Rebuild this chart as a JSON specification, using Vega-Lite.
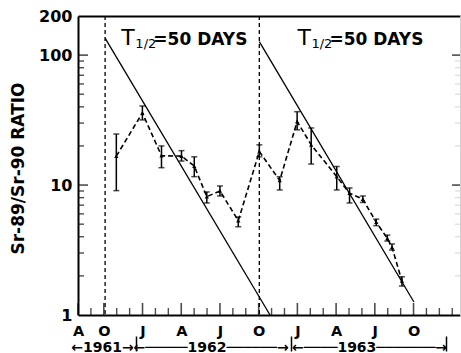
{
  "$schema": "https://vega.github.io/schema/vega-lite/v6.json",
  "width": 382,
  "height": 299,
  "autosize": "none",
  "padding": {"left": 78, "top": 16, "right": 1, "bottom": 38},
  "background": "white",
  "config": {
    "view": {"stroke": null},
    "font": "DejaVu Sans",
    "axis": {
      "grid": false,
      "labelFont": "DejaVu Sans",
      "labelFontWeight": "bold",
      "labelColor": "black",
      "tickColor": "black",
      "domainColor": "black",
      "titleFont": "DejaVu Sans",
      "titleFontWeight": "bold",
      "titleColor": "black",
      "labelFlush": false,
      "labelOverlap": false
    }
  },
  "datasets": {
    "series": [
      {"m": 2.97, "v": 16.7, "lo": 9.06, "hi": 24.7},
      {"m": 4.99, "v": 35.9, "lo": 31.7, "hi": 40.6},
      {"m": 6.47, "v": 16.8, "lo": 13.6, "hi": 20.0},
      {"m": 8.02, "v": 16.7, "lo": 15.3, "hi": 18.4},
      {"m": 9.01, "v": 14.0, "lo": 11.6, "hi": 16.5},
      {"m": 9.98, "v": 8.14, "lo": 7.28, "hi": 8.85},
      {"m": 11.0, "v": 9.01, "lo": 8.24, "hi": 9.84},
      {"m": 12.42, "v": 5.32, "lo": 4.78, "hi": 5.68},
      {"m": 14.05, "v": 18.1, "lo": 16.5, "hi": 20.4},
      {"m": 15.63, "v": 10.85, "lo": 9.17, "hi": 11.6},
      {"m": 16.98, "v": 30.8, "lo": 26.6, "hi": 36.7},
      {"m": 18.07, "v": 20.4, "lo": 14.5, "hi": 27.5},
      {"m": 20.05, "v": 11.6, "lo": 9.17, "hi": 13.9},
      {"m": 21.04, "v": 8.65, "lo": 7.28, "hi": 9.5},
      {"m": 22.07, "v": 7.78, "lo": 7.35, "hi": 8.24},
      {"m": 23.11, "v": 5.17, "lo": 4.87, "hi": 5.47},
      {"m": 23.97, "v": 3.89, "lo": 3.71, "hi": 4.12},
      {"m": 24.33, "v": 3.32, "lo": 3.16, "hi": 3.52},
      {"m": 25.1, "v": 1.83, "lo": 1.67, "hi": 1.97}
    ],
    "decay": [
      {"g": 1, "m": 2.1, "v": 135},
      {"g": 1, "m": 14.88, "v": 1},
      {"g": 2, "m": 14.05, "v": 127},
      {"g": 2, "m": 26.03, "v": 1.26}
    ],
    "oct": [{"m": 2.1}, {"m": 14.05}],
    "ann": [{"m": 3.36, "v": 119.8}, {"m": 17.0, "v": 119.8}],
    "xmajor": [{"m": 0, "v": 1}, {"m": 2, "v": 1}, {"m": 5, "v": 1}, {"m": 8, "v": 1}, {"m": 11, "v": 1}, {"m": 14, "v": 1}, {"m": 17, "v": 1}, {"m": 20, "v": 1}, {"m": 23, "v": 1}, {"m": 26, "v": 1}],
    "xminor": [{"m": 1, "v": 1}, {"m": 3, "v": 1}, {"m": 4, "v": 1}, {"m": 6, "v": 1}, {"m": 7, "v": 1}, {"m": 9, "v": 1}, {"m": 10, "v": 1}, {"m": 12, "v": 1}, {"m": 13, "v": 1}, {"m": 15, "v": 1}, {"m": 16, "v": 1}, {"m": 18, "v": 1}, {"m": 19, "v": 1}, {"m": 21, "v": 1}, {"m": 22, "v": 1}, {"m": 24, "v": 1}, {"m": 25, "v": 1}, {"m": 27, "v": 1}, {"m": 28, "v": 1}, {"m": 29, "v": 1}],
    "ymajorL": [{"m": 0, "v": 10}, {"m": 0, "v": 100}],
    "yminorL": [{"m": 0, "v": 2}, {"m": 0, "v": 3}, {"m": 0, "v": 4}, {"m": 0, "v": 5}, {"m": 0, "v": 6}, {"m": 0, "v": 7}, {"m": 0, "v": 8}, {"m": 0, "v": 9}, {"m": 0, "v": 20}, {"m": 0, "v": 30}, {"m": 0, "v": 40}, {"m": 0, "v": 50}, {"m": 0, "v": 60}, {"m": 0, "v": 70}, {"m": 0, "v": 80}, {"m": 0, "v": 90}],
    "ymajorR": [{"m": 29.6, "v": 10}, {"m": 29.6, "v": 100}],
    "yminorR": [{"m": 29.6, "v": 2}, {"m": 29.6, "v": 3}, {"m": 29.6, "v": 4}, {"m": 29.6, "v": 5}, {"m": 29.6, "v": 6}, {"m": 29.6, "v": 7}, {"m": 29.6, "v": 8}, {"m": 29.6, "v": 9}, {"m": 29.6, "v": 20}, {"m": 29.6, "v": 30}, {"m": 29.6, "v": 40}, {"m": 29.6, "v": 50}, {"m": 29.6, "v": 60}, {"m": 29.6, "v": 70}, {"m": 29.6, "v": 80}, {"m": 29.6, "v": 90}]
  },
  "resolve": {"axis": {"x": "independent", "y": "independent"}},
  "layer": [
    {
      "data": {"name": "oct"},
      "mark": {"type": "rule", "color": "black", "strokeWidth": 1.3, "strokeDash": [4, 3]},
      "encoding": {
        "x": {
          "field": "m", "type": "quantitative",
          "scale": {"domain": [0, 29.6], "nice": false, "zero": false},
          "axis": {
            "orient": "bottom", "title": null,
            "values": [0, 2, 5, 8, 11, 14, 17, 20, 23, 26],
            "labelExpr": "['A','','O','','','J','','','A','','','J'][datum.value % 12]",
            "ticks": false, "domain": true, "domainWidth": 2,
            "labelFontSize": 14.5, "labelPadding": 9, "zindex": 1
          }
        }
      }
    },
    {
      "data": {"name": "decay"},
      "mark": {"type": "line", "color": "black", "strokeWidth": 1.3},
      "encoding": {
        "x": {"field": "m", "type": "quantitative", "scale": {"domain": [0, 29.6], "nice": false, "zero": false}, "axis": null},
        "y": {
          "field": "v", "type": "quantitative",
          "scale": {"type": "log", "domain": [1, 200], "nice": false},
          "axis": {
            "orient": "left", "values": [1, 10, 100, 200],
            "ticks": false, "domain": true, "domainWidth": 2,
            "labelFontSize": 16, "labelPadding": 6,
            "title": "Sr-89/Sr-90 RATIO", "titleFontSize": 17,
            "titleX": -60, "titleY": 152, "titleAngle": -90,
            "titleAlign": "center", "titleBaseline": "middle", "zindex": 1
          }
        },
        "detail": {"field": "g", "type": "nominal"}
      }
    },
    {
      "data": {"name": "series"},
      "mark": {"type": "line", "color": "black", "strokeWidth": 1.6, "strokeDash": [5, 3]},
      "encoding": {
        "x": {"field": "m", "type": "quantitative", "scale": {"domain": [0, 29.6], "nice": false, "zero": false}, "axis": null},
        "y": {"field": "v", "type": "quantitative", "scale": {"type": "log", "domain": [1, 200], "nice": false}, "axis": null}
      }
    },
    {
      "data": {"name": "series"},
      "mark": {"type": "rule", "color": "black", "strokeWidth": 1.5},
      "encoding": {
        "x": {
          "field": "m", "type": "quantitative",
          "scale": {"domain": [0, 29.6], "nice": false, "zero": false},
          "axis": {
            "orient": "bottom", "title": null,
            "values": [1.86, 10.28, 22.55],
            "labelExpr": "datum.value < 5 ? '←1961→' : (datum.value < 15 ? '←─────1962──────→' : '←────1963───────→')",
            "ticks": false, "domain": false,
            "labelFontSize": 14, "labelPadding": 25, "zindex": 1
          }
        },
        "y": {"field": "lo", "type": "quantitative", "scale": {"type": "log", "domain": [1, 200], "nice": false}, "axis": null},
        "y2": {"field": "hi"}
      }
    },
    {
      "data": {"name": "series"},
      "mark": {"type": "tick", "color": "black", "orient": "horizontal", "size": 6, "thickness": 1.5},
      "encoding": {
        "x": {
          "field": "m", "type": "quantitative",
          "scale": {"domain": [0, 29.6], "nice": false, "zero": false},
          "axis": {
            "orient": "bottom", "title": null, "offset": 21,
            "values": [4.5, 16.5, 28.5],
            "labels": false, "domain": false,
            "tickSize": 15, "tickWidth": 1.5, "zindex": 1
          }
        },
        "y": {"field": "hi", "type": "quantitative", "scale": {"type": "log", "domain": [1, 200], "nice": false}, "axis": null}
      }
    },
    {
      "data": {"name": "series"},
      "mark": {"type": "tick", "color": "black", "orient": "horizontal", "size": 6, "thickness": 1.5},
      "encoding": {
        "x": {
          "field": "m", "type": "quantitative",
          "scale": {"domain": [0, 29.6], "nice": false, "zero": false},
          "axis": {
            "orient": "top", "title": null,
            "labels": false, "ticks": false, "domain": true, "domainWidth": 2, "zindex": 1
          }
        },
        "y": {"field": "lo", "type": "quantitative", "scale": {"type": "log", "domain": [1, 200], "nice": false}, "axis": null}
      }
    },
    {
      "data": {"name": "series"},
      "mark": {"type": "point", "shape": "triangle-up", "filled": true, "color": "black", "size": 18, "opacity": 1},
      "encoding": {
        "x": {"field": "m", "type": "quantitative", "scale": {"domain": [0, 29.6], "nice": false, "zero": false}, "axis": null},
        "y": {
          "field": "v", "type": "quantitative",
          "scale": {"type": "log", "domain": [1, 200], "nice": false},
          "axis": {
            "orient": "right", "title": null, "labels": false, "ticks": false,
            "domain": true, "domainColor": "#d0d0d0", "domainWidth": 1, "zindex": 1
          }
        }
      }
    },
    {
      "data": {"name": "xmajor"},
      "mark": {"type": "tick", "color": "black", "orient": "vertical", "size": 12, "thickness": 1.6, "yOffset": -6},
      "encoding": {
        "x": {"field": "m", "type": "quantitative", "scale": {"domain": [0, 29.6], "nice": false, "zero": false}, "axis": null},
        "y": {"field": "v", "type": "quantitative", "scale": {"type": "log", "domain": [1, 200], "nice": false}, "axis": null}
      }
    },
    {
      "data": {"name": "xminor"},
      "mark": {"type": "tick", "color": "black", "orient": "vertical", "size": 7, "thickness": 1.4, "yOffset": -3.5},
      "encoding": {
        "x": {"field": "m", "type": "quantitative", "scale": {"domain": [0, 29.6], "nice": false, "zero": false}, "axis": null},
        "y": {"field": "v", "type": "quantitative", "scale": {"type": "log", "domain": [1, 200], "nice": false}, "axis": null}
      }
    },
    {
      "data": {"name": "ymajorL"},
      "mark": {"type": "tick", "color": "black", "orient": "horizontal", "size": 10, "thickness": 1.6, "xOffset": 5},
      "encoding": {
        "x": {"field": "m", "type": "quantitative", "scale": {"domain": [0, 29.6], "nice": false, "zero": false}, "axis": null},
        "y": {"field": "v", "type": "quantitative", "scale": {"type": "log", "domain": [1, 200], "nice": false}, "axis": null}
      }
    },
    {
      "data": {"name": "yminorL"},
      "mark": {"type": "tick", "color": "black", "orient": "horizontal", "size": 6, "thickness": 1.4, "xOffset": 3},
      "encoding": {
        "x": {"field": "m", "type": "quantitative", "scale": {"domain": [0, 29.6], "nice": false, "zero": false}, "axis": null},
        "y": {"field": "v", "type": "quantitative", "scale": {"type": "log", "domain": [1, 200], "nice": false}, "axis": null}
      }
    },
    {
      "data": {"name": "ymajorR"},
      "mark": {"type": "tick", "color": "black", "orient": "horizontal", "size": 8, "thickness": 1.6, "xOffset": -4},
      "encoding": {
        "x": {"field": "m", "type": "quantitative", "scale": {"domain": [0, 29.6], "nice": false, "zero": false}, "axis": null},
        "y": {"field": "v", "type": "quantitative", "scale": {"type": "log", "domain": [1, 200], "nice": false}, "axis": null}
      }
    },
    {
      "data": {"name": "yminorR"},
      "mark": {"type": "tick", "color": "#c0c0c0", "orient": "horizontal", "size": 5, "thickness": 1, "xOffset": -2.5},
      "encoding": {
        "x": {"field": "m", "type": "quantitative", "scale": {"domain": [0, 29.6], "nice": false, "zero": false}, "axis": null},
        "y": {"field": "v", "type": "quantitative", "scale": {"type": "log", "domain": [1, 200], "nice": false}, "axis": null}
      }
    },
    {
      "data": {"name": "ann"},
      "mark": {"type": "text", "text": "T", "align": "left", "baseline": "alphabetic", "fontSize": 22, "font": "DejaVu Sans", "color": "black"},
      "encoding": {
        "x": {"field": "m", "type": "quantitative", "scale": {"domain": [0, 29.6], "nice": false, "zero": false}, "axis": null},
        "y": {"field": "v", "type": "quantitative", "scale": {"type": "log", "domain": [1, 200], "nice": false}, "axis": null}
      }
    },
    {
      "data": {"name": "ann"},
      "mark": {"type": "text", "text": "1/2", "align": "left", "baseline": "alphabetic", "fontSize": 13, "dx": 14, "dy": 3, "font": "DejaVu Sans", "color": "black"},
      "encoding": {
        "x": {"field": "m", "type": "quantitative", "scale": {"domain": [0, 29.6], "nice": false, "zero": false}, "axis": null},
        "y": {"field": "v", "type": "quantitative", "scale": {"type": "log", "domain": [1, 200], "nice": false}, "axis": null}
      }
    },
    {
      "data": {"name": "ann"},
      "mark": {"type": "text", "text": "=50 DAYS", "align": "left", "baseline": "alphabetic", "fontSize": 17, "fontWeight": "bold", "dx": 32, "font": "DejaVu Sans", "color": "black"},
      "encoding": {
        "x": {"field": "m", "type": "quantitative", "scale": {"domain": [0, 29.6], "nice": false, "zero": false}, "axis": null},
        "y": {"field": "v", "type": "quantitative", "scale": {"type": "log", "domain": [1, 200], "nice": false}, "axis": null}
      }
    }
  ]
}
